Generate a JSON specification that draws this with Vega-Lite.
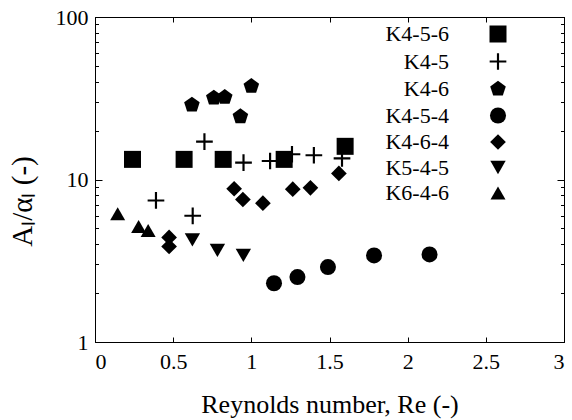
{
  "$schema": "https://vega.github.io/schema/vega-lite/v6.json",
  "width": 469,
  "height": 325,
  "autosize": {"type": "none"},
  "padding": {"left": 95, "top": 17, "right": 8, "bottom": 78},
  "config": {
    "view": {"stroke": "black", "strokeWidth": 1},
    "font": "Liberation Serif, Times New Roman, serif",
    "axis": {
      "grid": false,
      "domainColor": "black",
      "tickColor": "black",
      "labelColor": "black",
      "titleColor": "black",
      "labelFont": "Liberation Serif, Times New Roman, serif",
      "titleFont": "Liberation Serif, Times New Roman, serif",
      "labelFontSize": 22,
      "titleFontSize": 26,
      "titleFontWeight": "normal"
    },
    "legend": {"padding": 0}
  },
  "data": {
    "values": [
      {"series": "K4-5-6", "Re": 0.24, "A": 13.3},
      {"series": "K4-5-6", "Re": 0.57, "A": 13.3},
      {"series": "K4-5-6", "Re": 0.82, "A": 13.3},
      {"series": "K4-5-6", "Re": 1.21, "A": 13.3},
      {"series": "K4-5-6", "Re": 1.60, "A": 16.0},
      {"series": "K4-5", "Re": 0.39, "A": 7.43},
      {"series": "K4-5", "Re": 0.625, "A": 5.98},
      {"series": "K4-5", "Re": 0.70, "A": 17.1},
      {"series": "K4-5", "Re": 0.95, "A": 12.7},
      {"series": "K4-5", "Re": 1.12, "A": 13.0},
      {"series": "K4-5", "Re": 1.26, "A": 14.3},
      {"series": "K4-5", "Re": 1.40, "A": 14.1},
      {"series": "K4-5", "Re": 1.58, "A": 13.5},
      {"series": "K4-6", "Re": 0.62, "A": 28.8},
      {"series": "K4-6", "Re": 0.76, "A": 31.8},
      {"series": "K4-6", "Re": 0.83, "A": 32.1},
      {"series": "K4-6", "Re": 0.93, "A": 24.4},
      {"series": "K4-6", "Re": 1.00, "A": 37.5},
      {"series": "K4-5-4", "Re": 1.145, "A": 2.30},
      {"series": "K4-5-4", "Re": 1.295, "A": 2.51},
      {"series": "K4-5-4", "Re": 1.49, "A": 2.89},
      {"series": "K4-5-4", "Re": 1.785, "A": 3.41},
      {"series": "K4-5-4", "Re": 2.14, "A": 3.46},
      {"series": "K4-6-4", "Re": 0.474, "A": 4.40},
      {"series": "K4-6-4", "Re": 0.474, "A": 3.87},
      {"series": "K4-6-4", "Re": 0.89, "A": 8.77},
      {"series": "K4-6-4", "Re": 0.946, "A": 7.53},
      {"series": "K4-6-4", "Re": 1.074, "A": 7.15},
      {"series": "K4-6-4", "Re": 1.265, "A": 8.72},
      {"series": "K4-6-4", "Re": 1.378, "A": 8.89},
      {"series": "K4-6-4", "Re": 1.56, "A": 10.9},
      {"series": "K5-4-5", "Re": 0.623, "A": 4.25},
      {"series": "K5-4-5", "Re": 0.783, "A": 3.66},
      {"series": "K5-4-5", "Re": 0.949, "A": 3.41},
      {"series": "K6-4-6", "Re": 0.145, "A": 6.15},
      {"series": "K6-4-6", "Re": 0.279, "A": 5.14},
      {"series": "K6-4-6", "Re": 0.34, "A": 4.85}
    ]
  },
  "layer": [
    {
      "mark": {"type": "point", "filled": true, "opacity": 1, "color": "black", "strokeWidth": 0},
      "encoding": {
        "x": {
          "field": "Re", "type": "quantitative",
          "scale": {"domain": [0, 3], "nice": false},
          "axis": {
            "values": [0, 0.5, 1, 1.5, 2, 2.5, 3],
            "format": "~g",
            "tickSize": -5,
            "labelPadding": 14,
            "title": "Reynolds number, Re (-)",
            "titleY": 70,
            "titleBaseline": "alphabetic"
          }
        },
        "y": {
          "field": "A", "type": "quantitative",
          "scale": {"type": "log", "domain": [1, 100], "nice": false},
          "axis": {
            "values": [1, 2, 3, 4, 5, 6, 7, 8, 9, 10, 20, 30, 40, 50, 60, 70, 80, 90, 100],
            "labelExpr": "datum.value == 1 || datum.value == 10 || datum.value == 100 ? datum.label : ''",
            "format": "d",
            "tickSize": {"condition": {"test": "datum.value == 1 || datum.value == 10 || datum.value == 100", "value": -7}, "value": -3.5},
            "labelPadding": 14,
            "title": "Aₗ/αₗ (-)",
            "titleFontSize": 29,
            "titleX": -73,
            "titleY": 184,
            "titleBaseline": "middle",
            "titleAlign": "center"
          }
        },
        "shape": {
          "field": "series", "type": "nominal",
          "scale": {
            "domain": ["K4-5-6", "K4-5", "K4-6", "K4-5-4", "K4-6-4", "K5-4-5", "K6-4-6"],
            "range": ["square", "M-1,-0.13L-0.13,-0.13L-0.13,-1L0.13,-1L0.13,-0.13L1,-0.13L1,0.13L0.13,0.13L0.13,1L-0.13,1L-0.13,0.13L-1,0.13Z", "M0,-1L0.951,-0.309L0.588,0.809L-0.588,0.809L-0.951,-0.309Z", "circle", "diamond", "triangle-down", "triangle-up"]
          },
          "legend": {
            "title": null,
            "orient": "none",
            "legendX": 392,
            "legendY": 6,
            "labelFont": "Liberation Serif, Times New Roman, serif",
            "labelFontSize": 22,
            "labelColor": "black",
            "labelAlign": "right",
            "labelOffset": -60,
            "rowPadding": 3.5
          }
        },
        "size": {
          "field": "series", "type": "nominal",
          "scale": {
            "domain": ["K4-5-6", "K4-5", "K4-6", "K4-5-4", "K4-6-4", "K5-4-5", "K6-4-6"],
            "range": [289, 225, 200, 225, 180, 190, 190]
          }
        }
      }
    },
    {
      "mark": {"type": "point", "opacity": 0},
      "encoding": {
        "x": {
          "field": "Re", "type": "quantitative",
          "axis": {"orient": "top", "values": [0, 0.5, 1, 1.5, 2, 2.5, 3], "labels": false, "title": null, "tickSize": -5}
        },
        "y": {
          "field": "A", "type": "quantitative",
          "axis": {
            "orient": "right",
            "values": [1, 2, 3, 4, 5, 6, 7, 8, 9, 10, 20, 30, 40, 50, 60, 70, 80, 90, 100],
            "labels": false, "title": null,
            "tickSize": {"condition": {"test": "datum.value == 1 || datum.value == 10 || datum.value == 100", "value": -7}, "value": -3.5}
          }
        }
      }
    }
  ],
  "resolve": {"axis": {"x": "independent", "y": "independent"}}
}
